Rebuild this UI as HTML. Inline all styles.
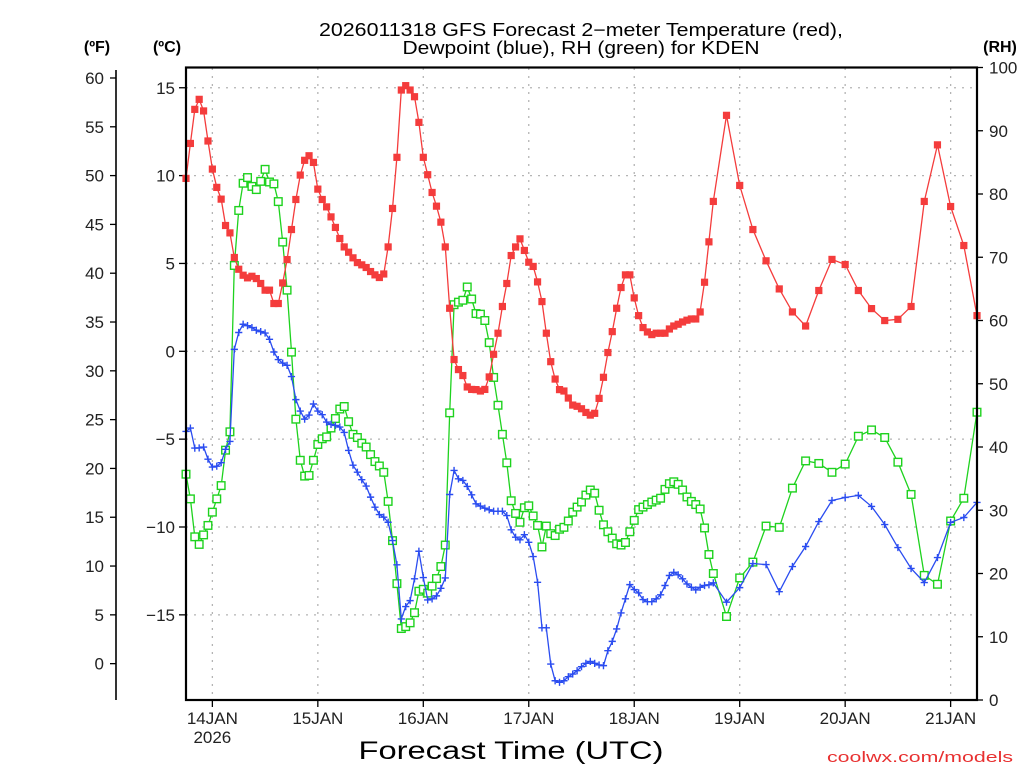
<!DOCTYPE html>
<html><head><meta charset="utf-8"><style>
html,body{margin:0;padding:0;background:#fff;width:1024px;height:768px;overflow:hidden}
svg{display:block;font-family:"Liberation Sans","DejaVu Sans",sans-serif}
</style></head><body>
<svg id="chart" width="1024" height="768" viewBox="0 0 1024 768" xmlns="http://www.w3.org/2000/svg">
<rect width="1024" height="768" fill="#fff"/>
<text x="581" y="36" font-size="18" text-anchor="middle" textLength="524" lengthAdjust="spacingAndGlyphs">2026011318 GFS Forecast 2−meter Temperature (red),</text>
<text x="581" y="54" font-size="18" text-anchor="middle" textLength="357" lengthAdjust="spacingAndGlyphs">Dewpoint (blue), RH (green) for KDEN</text>
<text x="97" y="52" font-size="16" font-weight="bold" text-anchor="middle">(ºF)</text>
<text x="167" y="52" font-size="16" font-weight="bold" text-anchor="middle">(ºC)</text>
<text x="1000" y="52" font-size="16" font-weight="bold" text-anchor="middle">(RH)</text>
<text x="511" y="759" font-size="25" text-anchor="middle" textLength="305" lengthAdjust="spacingAndGlyphs">Forecast Time (UTC)</text>
<text x="1013" y="762" font-size="15" fill="#e83030" text-anchor="end" textLength="186" lengthAdjust="spacingAndGlyphs">coolwx.com/models</text>
<g id="grid"></g><g id="axes"></g><g id="series"></g>
<rect x="186" y="67.5" width="791" height="632.5" fill="none" stroke="#000" stroke-width="2.2"/>
</svg>
<script>
const hours=[0,1,2,3,4,5,6,7,8,9,10,11,12,13,14,15,16,17,18,19,20,21,22,23,24,25,26,27,28,29,30,31,32,33,34,35,36,37,38,39,40,41,42,43,44,45,46,47,48,49,50,51,52,53,54,55,56,57,58,59,60,61,62,63,64,65,66,67,68,69,70,71,72,73,74,75,76,77,78,79,80,81,82,83,84,85,86,87,88,89,90,91,92,93,94,95,96,97,98,99,100,101,102,103,104,105,106,107,108,109,110,111,112,113,114,115,116,117,118,119,120,123,126,129,132,135,138,141,144,147,150,153,156,159,162,165,168,171,174,177,180];
const tempC=[9.84,11.83,13.77,14.34,13.68,11.97,10.37,9.33,8.66,7.16,6.74,5.34,4.67,4.33,4.18,4.27,4.14,3.86,3.48,3.48,2.72,2.72,3.89,5.22,6.93,8.64,10.03,10.87,11.13,10.75,9.23,8.64,8.22,7.65,7.05,6.42,5.94,5.64,5.32,5.05,4.92,4.77,4.54,4.35,4.2,4.4,5.94,8.13,11.04,14.87,15.12,14.87,14.49,13.03,11.04,10.05,9.04,8.26,7.35,5.94,2.45,
-0.47,-1.04,-1.38,-2.03,-2.17,-2.18,-2.26,-2.17,-1.46,-0.17,1.03,2.55,3.86,5.45,5.94,6.4,5.74,5.07,4.83,3.95,2.83,1.03,-0.59,-1.58,-2.18,-2.26,-2.66,-3.06,-3.13,-3.27,-3.48,-3.63,-3.53,-2.68,-1.48,-0.07,1.12,2.45,3.63,4.35,4.35,3.04,2.03,1.35,1.1,0.95,1.03,1.03,1.03,1.27,1.44,1.54,1.67,1.77,1.84,1.84,2.24,3.93,6.23,8.53,
13.43,9.44,6.93,5.15,3.55,2.24,1.44,3.46,5.23,4.94,3.46,2.43,1.75,1.82,2.55,8.53,11.75,8.24,6.02,2.03];
const dewC=[-4.56,-4.37,-5.51,-5.5,-5.45,-6.14,-6.59,-6.54,-6.34,-5.58,-5.13,0.11,1.07,1.54,1.46,1.35,1.2,1.12,1.04,0.68,-0.04,-0.47,-0.67,-0.8,-1.44,-2.75,-3.4,-3.86,-3.63,-3.0,-3.4,-3.61,-4.03,-4.16,-4.22,-4.31,-4.62,-5.64,-6.48,-6.88,-7.31,-7.67,-8.3,-8.87,-9.29,-9.44,-9.73,-10.77,-12.15,-15.23,-14.53,-14.19,-12.95,-11.38,-12.88,-14.15,-14.09,-13.92,-13.49,-12.9,-8.15,
-6.78,-7.26,-7.35,-7.69,-8.17,-8.68,-8.81,-8.93,-9.02,-9.1,-9.1,-9.1,-9.35,-10.16,-10.58,-10.73,-10.44,-10.87,-11.68,-13.15,-15.74,-15.74,-17.8,-18.75,-18.84,-18.75,-18.52,-18.37,-18.18,-17.95,-17.76,-17.65,-17.76,-17.85,-17.89,-17.04,-16.51,-15.8,-14.89,-14.09,-13.28,-13.56,-13.75,-14.13,-14.25,-14.25,-14.09,-13.86,-13.33,-12.76,-12.58,-12.72,-12.95,-13.24,-13.43,-13.58,-13.43,-13.33,-13.29,-13.18,
-14.28,-13.45,-12.08,-12.14,-13.68,-12.25,-11.11,-9.69,-8.49,-8.32,-8.2,-8.83,-9.86,-11.17,-12.36,-13.16,-11.74,-9.74,-9.46,-8.6];
const rh=[35.7,31.8,25.8,24.6,26.1,27.6,29.7,31.8,33.9,39.5,42.4,68.7,77.4,81.7,82.6,81.2,80.7,82.0,83.9,81.9,81.6,78.8,72.4,64.8,55.0,44.4,37.9,35.4,35.5,37.9,40.4,41.3,41.6,43.0,44.5,46.0,46.4,44.0,42.0,41.5,40.6,40.0,38.8,37.7,37.0,36.0,31.4,25.2,18.4,11.3,11.6,12.2,13.8,17.2,17.5,16.9,18.0,19.2,21.1,24.5,45.4,
62.5,62.9,63.2,65.3,63.4,61.1,61.0,60.0,56.5,51.0,46.6,42.0,37.5,31.5,29.5,28.1,30.4,30.7,29.1,27.6,24.2,27.5,26.3,26.0,27.0,27.3,28.3,29.7,30.5,31.3,32.4,33.2,32.7,30.0,27.7,26.6,25.6,24.7,24.5,24.9,26.6,28.4,30.1,30.5,30.9,31.3,31.6,31.9,33.3,34.2,34.5,34.1,33.2,32.1,31.4,30.9,30.2,27.2,23.0,20.0,
13.2,19.3,21.8,27.5,27.3,33.5,37.8,37.4,36.0,37.3,41.7,42.7,41.5,37.6,32.5,19.7,18.3,28.3,31.9,45.5];
const dayLabels=["14JAN","15JAN","16JAN","17JAN","18JAN","19JAN","20JAN","21JAN"];
const dayHours=[6,30,54,78,102,126,150,174];
const cTicks=[-15,-10,-5,0,5,10,15];
const fTicks=[0,5,10,15,20,25,30,35,40,45,50,55,60];
const rhTicks=[0,10,20,30,40,50,60,70,80,90,100];

const NS="http://www.w3.org/2000/svg";
const X0=186,X1=977,H0=0,H1=180;
const xS=h=>X0+(h-H0)*(X1-X0)/(H1-H0);
const yC=c=>351.3-c*17.57;
const yF=f=>yC((f-32)*5/9);
const yR=r=>700-r*(632.5/100);
function mk(tag,attrs,parent){const e=document.createElementNS(NS,tag);for(const k in attrs)e.setAttribute(k,attrs[k]);parent.appendChild(e);return e;}
const grid=document.getElementById('grid'),axes=document.getElementById('axes'),series=document.getElementById('series');

cTicks.forEach(c=>{const y=yC(c);
 const g=mk('line',{x1:X0,x2:X1,y1:y,y2:y,stroke:'#b4b4b4','stroke-width':1.3,'stroke-dasharray':'2 6'},grid);
 
 
 const t=mk('line',{x1:X0-7,x2:X0,y1:y,y2:y,stroke:'#000','stroke-width':1.3},axes);
 
 
 const l=mk('text',{x:X0-11,y:y+6,'font-size':17,'text-anchor':'end',fill:'#222'},axes);l.textContent=(c<0?'−':'')+Math.abs(c);
 
 
});
const fl=mk('line',{x1:116,x2:116,y1:70,y2:700,stroke:'#000','stroke-width':1.6},axes);


fTicks.forEach(f=>{const y=yF(f);
 const t=mk('line',{x1:110,x2:116,y1:y,y2:y,stroke:'#000','stroke-width':1.3},axes);
 
 
 const l=mk('text',{x:104,y:y+6,'font-size':17,'text-anchor':'end',fill:'#222'},axes);l.textContent=f;
 
 
});
rhTicks.forEach(r=>{const y=yR(r);
 const t=mk('line',{x1:X1,x2:X1+6,y1:y,y2:y,stroke:'#000','stroke-width':1.3},axes);
 
 
 const l=mk('text',{x:989,y:y+6,'font-size':17,'text-anchor':'start',fill:'#222'},axes);l.textContent=r;
 
 
});
dayHours.forEach((h,i)=>{const x=xS(h);
 const g=mk('line',{x1:x,x2:x,y1:68,y2:700,stroke:'#b4b4b4','stroke-width':1.3,'stroke-dasharray':'2 6'},grid);
 
 
 const t=mk('line',{x1:x,x2:x,y1:700,y2:707,stroke:'#000','stroke-width':1.3},axes);
 
 
 const l=mk('text',{x:x,y:724,'font-size':17,'text-anchor':'middle',fill:'#222'},axes);l.textContent=dayLabels[i];
 
 
});
const yr=mk('text',{x:xS(dayHours[0]),y:743,'font-size':17,'text-anchor':'middle',fill:'#222'},axes);yr.textContent='2026';



function drawSeries(vals,yfn,color,marker,name){
 const g=mk('g',{},series);
 
 
 const pts=vals.map((v,i)=>xS(hours[i]).toFixed(1)+','+yfn(v).toFixed(1)).join(' ');
 const pl=mk('polyline',{points:pts,fill:'none',stroke:color,'stroke-width':1.3},g);
 
 
 vals.forEach((v,i)=>{const x=xS(hours[i]),y=yfn(v);let m;
  if(marker==='fill'){m=mk('rect',{x:x-3.6,y:y-3.6,width:7.2,height:7.2,fill:color},g);}
  else if(marker==='open'){m=mk('rect',{x:x-3.8,y:y-3.8,width:7.6,height:7.6,fill:'#fff',stroke:color,'stroke-width':1.4},g);}
  else{m=mk('path',{d:`M${x-3.6},${y}H${x+3.6}M${x},${y-3.6}V${y+3.6}`,stroke:color,'stroke-width':1.4,fill:'none'},g);}
  
  
 });
}
drawSeries(rh,yR,'#1ed21e','open','rh');
drawSeries(dewC,yC,'#2a4cf0','plus','dewpoint');
drawSeries(tempC,yC,'#f43c3c','fill','temperature');
</script>
</body></html>
